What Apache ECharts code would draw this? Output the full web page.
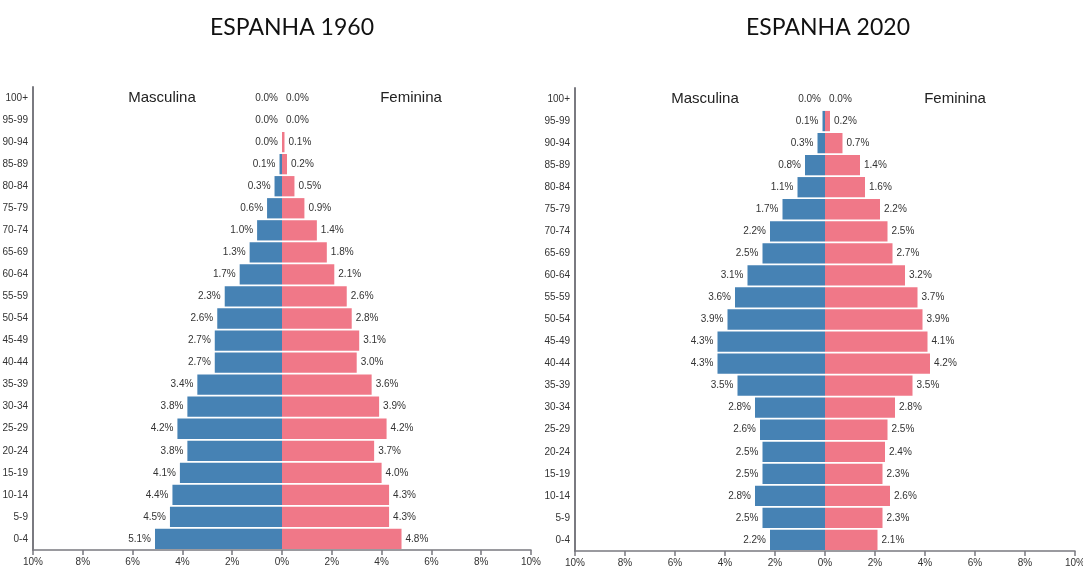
<!DOCTYPE html>
<html>
<head>
<meta charset="utf-8">
<script src="https://cdn.jsdelivr.net/npm/echarts@6/dist/echarts.min.js"></script>
<style>
  html, body { margin: 0; padding: 0; background: #fff; }
  #main { width: 1083px; height: 569px; }
</style>
</head>
<body>
<div id="main"></div>
<script>
// faixas etárias, de baixo para cima
var ages = ['0-4', '5-9', '10-14', '15-19', '20-24', '25-29', '30-34', '35-39', '40-44', '45-49',
            '50-54', '55-59', '60-64', '65-69', '70-74', '75-79', '80-84', '85-89', '90-94', '95-99', '100+'];
var xTicks = [-10, -8, -6, -4, -2, 0, 2, 4, 6, 8, 10];

// Espanha 1960 (% da população)
var male1960   = [5.1, 4.5, 4.4, 4.1, 3.8, 4.2, 3.8, 3.4, 2.7, 2.7, 2.6, 2.3, 1.7, 1.3, 1.0, 0.6, 0.3, 0.1, 0.0, 0.0, 0.0];
var female1960 = [4.8, 4.3, 4.3, 4.0, 3.7, 4.2, 3.9, 3.6, 3.0, 3.1, 2.8, 2.6, 2.1, 1.8, 1.4, 0.9, 0.5, 0.2, 0.1, 0.0, 0.0];

// Espanha 2020
var male2020   = [2.2, 2.5, 2.8, 2.5, 2.5, 2.6, 2.8, 3.5, 4.3, 4.3, 3.9, 3.6, 3.1, 2.5, 2.2, 1.7, 1.1, 0.8, 0.3, 0.1, 0.0];
var female2020 = [2.1, 2.3, 2.6, 2.3, 2.4, 2.5, 2.8, 3.5, 4.2, 4.1, 3.9, 3.7, 3.2, 2.7, 2.5, 2.2, 1.6, 1.4, 0.7, 0.2, 0.0];

var BLUE = '#4682b4';
var PINK = '#f07888';
var AXIS = '#7a7a80';
var TXT = '#333';
var FONT = '"Liberation Sans", Arial, sans-serif';

function pct(p) {
    return Math.abs(p.value).toFixed(1) + '%';
}

function xAxisFor(idx) {
    return {
        type: 'value', gridIndex: idx,
        min: xTicks[0], max: xTicks[xTicks.length - 1], interval: 2,
        splitLine: { show: false },
        axisLine: { show: true, lineStyle: { color: AXIS, width: 1.5 } },
        axisTick: { show: true, length: 5, lineStyle: { color: AXIS, width: 1.5 } },
        axisLabel: {
            color: TXT, fontSize: 10, fontFamily: FONT, margin: 7,
            formatter: function (v) { return Math.abs(v) + '%'; }
        }
    };
}

function yAxisFor(idx) {
    return {
        type: 'category', gridIndex: idx, data: ages,
        axisLine: { show: true, onZero: false, lineStyle: { color: AXIS, width: 2 } },
        axisTick: { show: false },
        axisLabel: { color: TXT, fontSize: 10, fontFamily: FONT, margin: 5 }
    };
}

function barSeries(idx, values, color, side) {
    return {
        type: 'bar', xAxisIndex: idx, yAxisIndex: idx,
        data: values.map(function (v) { return side === 'left' ? -v : v; }),
        barGap: '-100%', barCategoryGap: '8%',
        itemStyle: { color: color },
        label: {
            show: true, position: side, distance: 4,
            color: TXT, fontSize: 10, fontFamily: FONT,
            formatter: pct
        },
        silent: true
    };
}

var chart = echarts.init(document.getElementById('main'));

var titleFont = { fontFamily: 'Lato, "Open Sans", sans-serif', fontSize: 23, fontWeight: 'normal', color: '#111' };
var sexFont = { fontFamily: FONT, fontSize: 15, fontWeight: 'normal', color: '#222' };

var option = {
    animation: false,
    backgroundColor: '#fff',
    title: [
        { text: 'ESPANHA 1960', left: 287, top: 11, textAlign: 'center', textStyle: titleFont },
        { text: 'ESPANHA 2020', left: 823, top: 11, textAlign: 'center', textStyle: titleFont },
        { text: 'Masculina', left: 157, top: 85, textAlign: 'center', textStyle: sexFont },
        { text: 'Feminina', left: 406, top: 85, textAlign: 'center', textStyle: sexFont },
        { text: 'Masculina', left: 700, top: 86, textAlign: 'center', textStyle: sexFont },
        { text: 'Feminina', left: 950, top: 86, textAlign: 'center', textStyle: sexFont }
    ],
    grid: [
        { left: 33, top: 87, width: 498, height: 463, containLabel: false, outerBoundsMode: 'none' },
        { left: 575, top: 88, width: 500, height: 463, containLabel: false, outerBoundsMode: 'none' }
    ],
    xAxis: [xAxisFor(0), xAxisFor(1)],
    yAxis: [yAxisFor(0), yAxisFor(1)],
    series: [
        barSeries(0, male1960, BLUE, 'left'),
        barSeries(0, female1960, PINK, 'right'),
        barSeries(1, male2020, BLUE, 'left'),
        barSeries(1, female2020, PINK, 'right')
    ]
};

chart.setOption(option);
</script>
</body>
</html>
